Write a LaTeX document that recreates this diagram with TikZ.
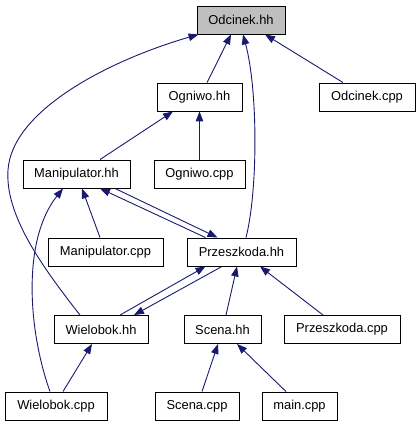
\documentclass[tikz,border=0pt]{standalone}
\usepackage{fontspec}
\setmainfont{Liberation Sans}
\usetikzlibrary{arrows.meta,calc}
\definecolor{edgecol}{HTML}{191970}
\begin{document}
\begin{tikzpicture}[x=1pt,y=-1pt,
  box/.style={draw=black, line width=0.9pt, fill=white, minimum height=28pt, inner sep=0pt, font=\fontsize{12.9}{15}\selectfont},
  dep/.style={draw=edgecol, line width=0.9pt, -{Triangle[length=10pt,width=7.5pt]}}]
\useasboundingbox (0,0) rectangle (419,427);
% nodes
\node[box, fill={rgb,255:red,191;green,191;blue,191}, minimum width=88pt] (odh) at (241,20) {Odcinek.hh};
\node[box, minimum width=85pt] (ogh) at (199.5,97) {Ogniwo.hh};
\node[box, minimum width=96pt] (odc) at (367,97) {Odcinek.cpp};
\node[box, minimum width=107pt] (mah) at (76.5,174) {Manipulator.hh};
\node[box, minimum width=91pt] (ogc) at (199.5,174) {Ogniwo.cpp};
\node[box, minimum width=115pt] (mac) at (105.5,252) {Manipulator.cpp};
\node[box, minimum width=109pt] (prh) at (241.5,252) {Przeszkoda.hh};
\node[box, minimum width=94pt] (wih) at (101,329.5) {Wielobok.hh};
\node[box, minimum width=77pt] (sch) at (222.5,329.5) {Scena.hh};
\node[box, minimum width=116pt] (prc) at (342,329.5) {Przeszkoda.cpp};
\node[box, minimum width=102pt] (wic) at (56,406) {Wielobok.cpp};
\node[box, minimum width=84pt] (scc) at (197,406) {Scena.cpp};
\node[box, minimum width=75pt] (mnc) at (299.5,406) {main.cpp};
% edges
\draw[dep] ([xshift=7.5pt]ogh.north) -- ([xshift=-10pt]odh.south);
\draw[dep] ([xshift=-24pt]odc.north) -- ([xshift=24pt]odh.south);
\draw[dep] ([xshift=-21pt]wih.north) .. controls ($(wih.north)+(-61,-51)$) and ($(wih.north)+(-96,-101)$) .. (8,170)
  .. controls (12,110) and (110,60) .. ([xshift=2pt]odh.south west);
\draw[dep] ([xshift=4.5pt]prh.north) .. controls (258,190) and (258,90) .. ([xshift=2pt]odh.south);
\draw[dep] ([xshift=23.5pt]mah.north) -- ([xshift=-26.5pt]ogh.south);
\draw[dep] (ogc.north) -- (ogh.south);
\draw[dep] ([xshift=-5.5pt]mac.north) -- ([xshift=5.5pt]mah.south);
\draw[dep] ([xshift=-6pt]wic.north) .. controls (28,330) and (22,240) .. ([xshift=-13.5pt]mah.south);
\draw[dep] ([xshift=-36pt]prh.north) -- ([xshift=23.5pt]mah.south);
\draw[dep] ([xshift=38.5pt]mah.south) -- ([xshift=-24pt]prh.north);
\draw[dep] ([xshift=-19.5pt]prh.south) -- ([xshift=33pt]wih.north);
\draw[dep] ([xshift=19pt]wih.north) -- ([xshift=-36pt]prh.south);
\draw[dep] ([xshift=3.5pt]sch.north) -- ([xshift=-4.5pt]prh.south);
\draw[dep] ([xshift=-19pt]prc.north) -- ([xshift=18.5pt]prh.south);
\draw[dep] ([xshift=7pt]wic.north) -- ([xshift=-9pt]wih.south);
\draw[dep] ([xshift=5pt]scc.north) -- ([xshift=-4.5pt]sch.south);
\draw[dep] ([xshift=-13.5pt]mnc.north) -- ([xshift=14.5pt]sch.south);
\end{tikzpicture}
\end{document}
